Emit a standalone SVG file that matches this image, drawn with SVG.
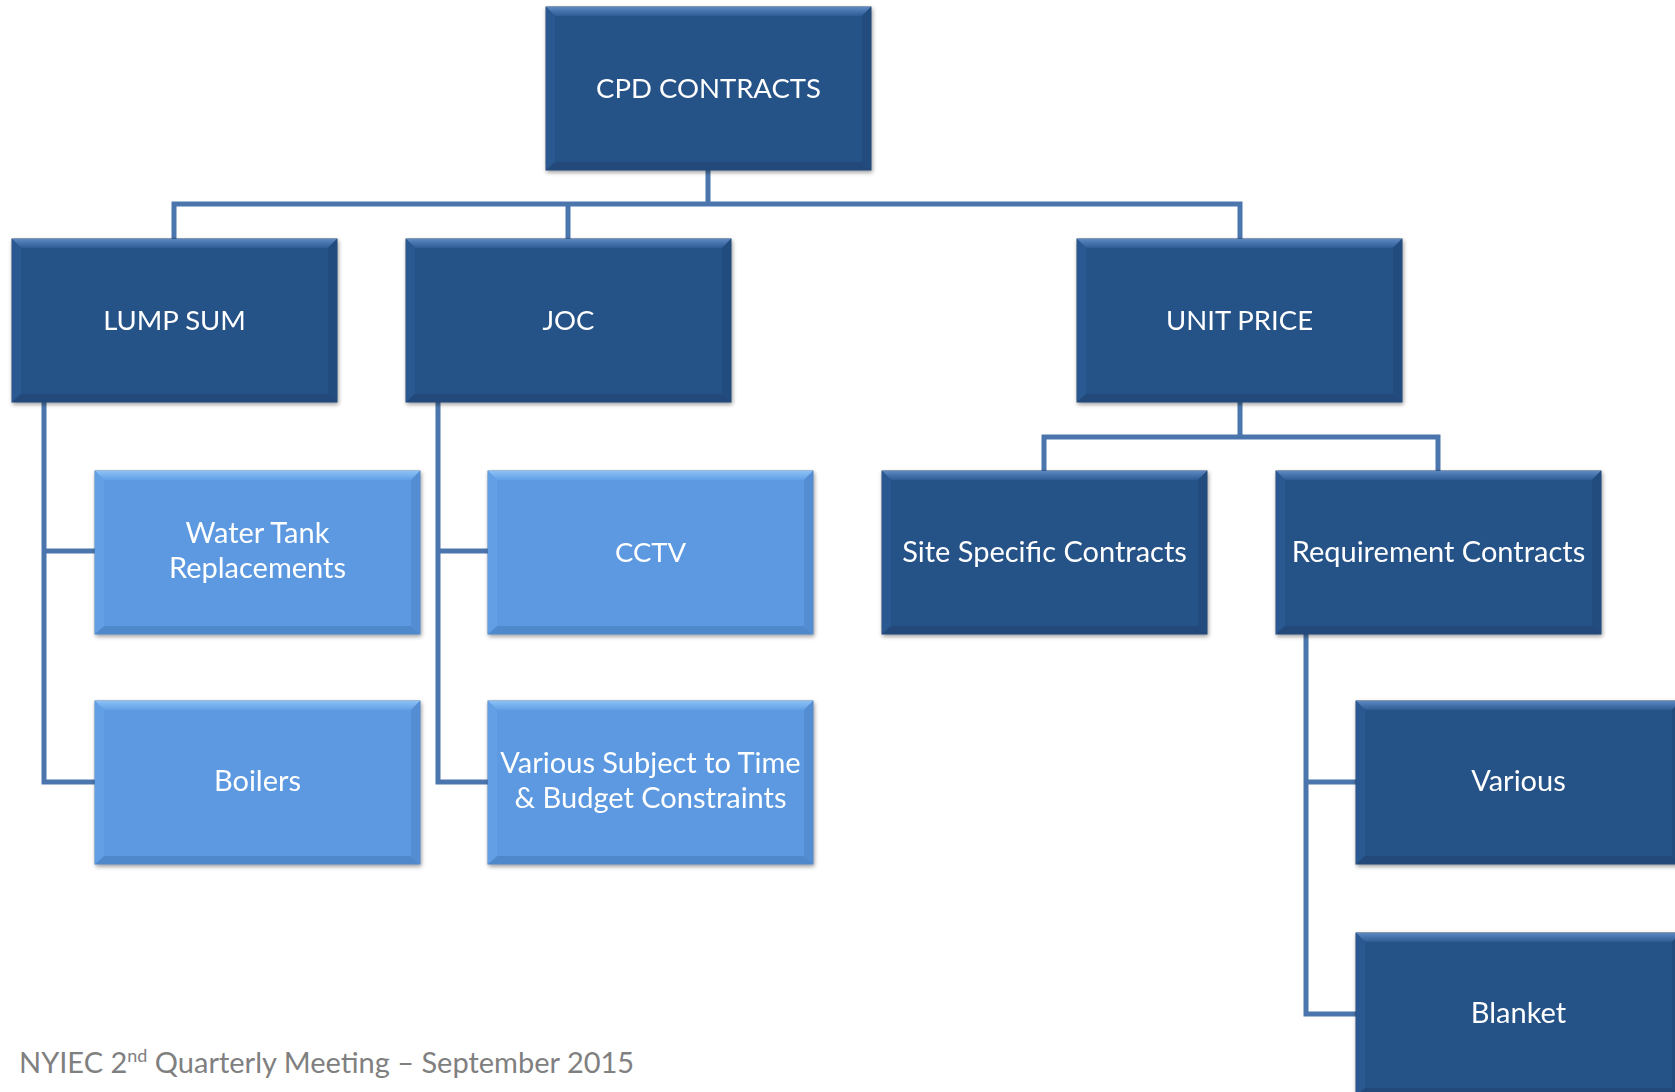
<svg xmlns="http://www.w3.org/2000/svg" xmlns:xlink="http://www.w3.org/1999/xlink" width="1675" height="1092" viewBox="0 0 1675 1092">
<style>
.lbl{font-family:Lato,"Liberation Sans",sans-serif;font-size:29px;fill:#ffffff;text-anchor:middle}
.caps{font-size:27.5px}
.conn{fill:none;stroke:#4a76ad;stroke-width:5;stroke-linejoin:miter;stroke-linecap:square}
.foot{font-family:Lato,"Liberation Sans",sans-serif;font-size:29px;fill:#808080}
</style>
<defs>
<filter id="sh" x="-5%" y="-5%" width="112%" height="115%">
<feGaussianBlur in="SourceAlpha" stdDeviation="2"/>
<feOffset dx="0.5" dy="2" result="b"/>
<feComponentTransfer><feFuncA type="linear" slope="0.4"/></feComponentTransfer>
<feMerge><feMergeNode/><feMergeNode in="SourceGraphic"/></feMerge>
</filter>
<linearGradient id="gTopD" x1="0" y1="0" x2="0" y2="1"><stop offset="0" stop-color="#5c88c2"/><stop offset="1" stop-color="#2d5b93"/></linearGradient>
<linearGradient id="gTopL" x1="0" y1="0" x2="0" y2="1"><stop offset="0" stop-color="#8cc0f5"/><stop offset="1" stop-color="#62a0e6"/></linearGradient>
<g id="boxD">
<rect x="0" y="0" width="325" height="163" fill="#265287" stroke="#1f446f" stroke-width="1"/>
<polygon points="0,0 325,0 316,9 9,9" fill="url(#gTopD)"/>
<polygon points="0,163 325,163 316,155 9,155" fill="#22497a"/>
<polygon points="0,0 9,9 9,155 0,163" fill="#2a5890"/>
<polygon points="325,0 316,9 316,155 325,163" fill="#234b7e"/>
</g>
<g id="boxL">
<rect x="0" y="0" width="325" height="163" fill="#5d99e0" stroke="#4a7cb8" stroke-width="1"/>
<polygon points="0,0 325,0 316,9 9,9" fill="url(#gTopL)"/>
<polygon points="0,163 325,163 316,155 9,155" fill="#5089cc"/>
<polygon points="0,0 9,9 9,155 0,163" fill="#629fe5"/>
<polygon points="325,0 316,9 316,155 325,163" fill="#548dd2"/>
</g>
</defs>
<rect width="1675" height="1092" fill="#ffffff"/>
<g id="connectors">
<path class="conn" d="M708,171 V204 M174,204 H1240 M174,204 V239 M568,204 V239 M1240,204 V239"/>
<path class="conn" d="M44,402 V782 H94 M44,551 H94"/>
<path class="conn" d="M438,402 V782 H488 M438,551 H488"/>
<path class="conn" d="M1240,402 V437 M1044,437 H1438 M1044,437 V471 M1438,437 V471"/>
<path class="conn" d="M1306,633 V1014 H1355 M1306,782 H1355"/>
</g>
<g id="n-cpd" filter="url(#sh)"><use xlink:href="#boxD" x="546" y="7"/><text class="lbl caps" x="708.5" y="98">CPD CONTRACTS</text></g>
<g id="n-lump" filter="url(#sh)"><use xlink:href="#boxD" x="12" y="239"/><text class="lbl caps" x="174.5" y="330">LUMP SUM</text></g>
<g id="n-joc" filter="url(#sh)"><use xlink:href="#boxD" x="406" y="239"/><text class="lbl caps" x="568.5" y="330">JOC</text></g>
<g id="n-unit" filter="url(#sh)"><use xlink:href="#boxD" x="1077" y="239"/><text class="lbl caps" x="1239.5" y="330">UNIT PRICE</text></g>
<g id="n-water" filter="url(#sh)"><use xlink:href="#boxL" x="95" y="471"/><text class="lbl" x="257.5" y="543">Water Tank</text><text class="lbl" x="257.5" y="578">Replacements</text></g>
<g id="n-boilers" filter="url(#sh)"><use xlink:href="#boxL" x="95" y="701"/><text class="lbl" x="257.5" y="791">Boilers</text></g>
<g id="n-cctv" filter="url(#sh)"><use xlink:href="#boxL" x="488" y="471"/><text class="lbl caps" x="650.5" y="562">CCTV</text></g>
<g id="n-various-subj" filter="url(#sh)"><use xlink:href="#boxL" x="488" y="701"/><text class="lbl" x="650.5" y="773">Various Subject to Time</text><text class="lbl" x="650.5" y="808">&amp; Budget Constraints</text></g>
<g id="n-site" filter="url(#sh)"><use xlink:href="#boxD" x="882" y="471"/><text class="lbl" x="1044.5" y="562">Site Specific Contracts</text></g>
<g id="n-req" filter="url(#sh)"><use xlink:href="#boxD" x="1276" y="471"/><text class="lbl" x="1438.5" y="562">Requirement Contracts</text></g>
<g id="n-various" filter="url(#sh)"><use xlink:href="#boxD" x="1356" y="701"/><text class="lbl" x="1518.5" y="791">Various</text></g>
<g id="n-blanket" filter="url(#sh)"><use xlink:href="#boxD" x="1356" y="933"/><text class="lbl" x="1518.5" y="1023">Blanket</text></g>
<text class="foot" x="19" y="1073">NYIEC 2<tspan font-size="18" dy="-11">nd</tspan><tspan dy="11"> Quarterly Meeting – September 2015</tspan></text>
</svg>
